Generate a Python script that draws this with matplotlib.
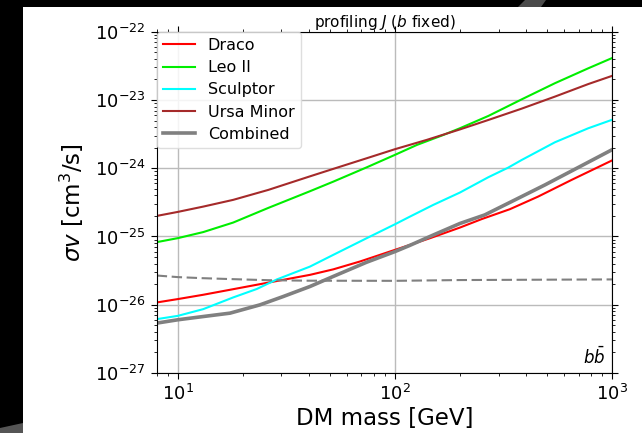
import numpy as np
import matplotlib
matplotlib.use("Agg")
import matplotlib.pyplot as plt
from matplotlib.patches import Rectangle, Polygon

# Upper limits on <sigma v> (cm^3/s) vs. dark matter mass (GeV), b-bbar channel
draco_mass = [8.0, 10, 13.1, 18.0, 26.1, 40.6, 52.0, 69.0, 100, 145, 199, 251, 338, 456, 650, 993]
draco_sv = [1.08e-26, 1.21e-26, 1.40e-26, 1.69e-26, 2.11e-26, 2.74e-26, 3.30e-26, 4.30e-26,
            6.37e-26, 9.44e-26, 1.35e-25, 1.80e-25, 2.51e-25, 3.84e-25, 6.74e-25, 1.29e-24]

leo2_mass = [8.0, 10, 13.1, 18.0, 26.1, 40.6, 52.0, 74.1, 100, 126, 167, 199, 269, 383, 545, 776, 993]
leo2_sv = [8.26e-26, 9.45e-26, 1.16e-25, 1.60e-25, 2.62e-25, 4.60e-25, 6.36e-25, 1.03e-24,
           1.57e-24, 2.19e-24, 3.07e-24, 3.85e-24, 5.83e-24, 1.02e-23, 1.76e-23, 2.91e-23, 4.08e-23]

sculptor_mass = [8.0, 10, 13.1, 18.0, 23.1, 28.6, 40.6, 52.0, 74.1, 100, 117, 150, 199, 269,
                 332, 383, 545, 776, 993]
sculptor_sv = [6.15e-27, 6.87e-27, 8.62e-27, 1.28e-26, 1.70e-26, 2.35e-26, 3.62e-26, 5.38e-26,
               9.44e-26, 1.51e-25, 1.95e-25, 2.90e-25, 4.40e-25, 7.38e-25, 1.02e-24, 1.32e-24,
               2.40e-24, 3.85e-24, 5.09e-24]

umi_mass = [8.0, 10, 13.1, 18.0, 26.1, 40.6, 50.2, 74.1, 100, 140, 199, 269, 383, 545, 776, 993]
umi_sv = [2.00e-25, 2.29e-25, 2.74e-25, 3.44e-25, 4.81e-25, 7.60e-25, 9.44e-25, 1.40e-24,
          1.90e-24, 2.60e-24, 3.70e-24, 5.09e-24, 7.46e-24, 1.12e-23, 1.71e-23, 2.24e-23]

combined_mass = [8.0, 10, 13.1, 17.4, 23.9, 30.6, 40.6, 52.0, 74.1, 100, 117, 150, 199, 259,
                 357, 490, 673, 993]
combined_sv = [5.38e-27, 6.02e-27, 6.72e-27, 7.53e-27, 9.96e-27, 1.32e-26, 1.85e-26, 2.60e-26,
               4.20e-26, 6.01e-26, 7.40e-26, 1.05e-25, 1.55e-25, 2.07e-25, 3.44e-25, 5.69e-25,
               9.66e-25, 1.85e-24]

thermal_mass = [8.0, 10, 13, 18, 26, 40, 100, 200, 1000]
thermal_sv = [2.68e-26, 2.54e-26, 2.45e-26, 2.37e-26, 2.29e-26, 2.25e-26, 2.24e-26, 2.30e-26, 2.35e-26]

W, H = 642, 433
fig = plt.figure(figsize=(W / 100, H / 100), dpi=100, facecolor="black")

# white page area with the dark frame around it
fig.patches.append(Rectangle((23 / W, 0), 1 - 23 / W, (H - 7) / H,
                             transform=fig.transFigure, facecolor="white",
                             edgecolor="none", zorder=-10))
fig.patches.append(Polygon([(525 / W, 1), (546 / W, 1), (541 / W, 1 - 7 / H), (518 / W, 1 - 7 / H)],
                           closed=True, transform=fig.transFigure,
                           facecolor="#4a4a4a", edgecolor="none", zorder=-9))
fig.patches.append(Polygon([(0, 0), (23 / W, 0), (23 / W, 1 - 423 / H), (0, 1 - 428 / H)],
                           closed=True, transform=fig.transFigure,
                           facecolor="#555555", edgecolor="none", zorder=-9))

ax = fig.add_axes([156.7 / W, 1 - 373 / H, (612.2 - 156.7) / W, (373 - 31.7) / H])

ax.plot(draco_mass, draco_sv, color="red", lw=1.5, label="Draco")
ax.plot(leo2_mass, leo2_sv, color="#00ee00", lw=1.5, label="Leo II")
ax.plot(sculptor_mass, sculptor_sv, color="cyan", lw=1.5, label="Sculptor")
ax.plot(umi_mass, umi_sv, color="brown", lw=1.5, label="Ursa Minor")
ax.plot(combined_mass, combined_sv, color="gray", lw=2.6, label="Combined")
ax.plot(thermal_mass, thermal_sv, color="gray", lw=1.5, ls=(0, (5, 2.2)))

ax.set_xscale("log")
ax.set_yscale("log")
ax.set_xlim(8, 1000)
ax.set_ylim(1e-27, 1e-22)

ax.grid(True, which="major", color="#bbbbbb", lw=1.0)
ax.tick_params(which="both", direction="out", top=True, right=True, labelsize=13)
ax.tick_params(which="major", length=4.5)
ax.tick_params(which="minor", length=2.5)

ax.set_xlabel("DM mass [GeV]", fontsize=16.5, labelpad=2)
ax.set_ylabel(r"$\sigma v$ [cm$^3$/s]", fontsize=16.5, labelpad=6)
ax.set_title(r"profiling $J$ ($b$ fixed)", fontsize=11, pad=3)

ax.text(0.984, 0.047, r"$b\bar{b}$", transform=ax.transAxes, ha="right", va="center",
        fontsize=12)

ax.legend(loc="upper left", bbox_to_anchor=(0, 1), borderaxespad=0, fontsize=11.5,
          framealpha=0.85, edgecolor="0.85", handlelength=2.0, labelspacing=0.45)

fig.savefig("out.png", dpi=100, facecolor=fig.get_facecolor())
